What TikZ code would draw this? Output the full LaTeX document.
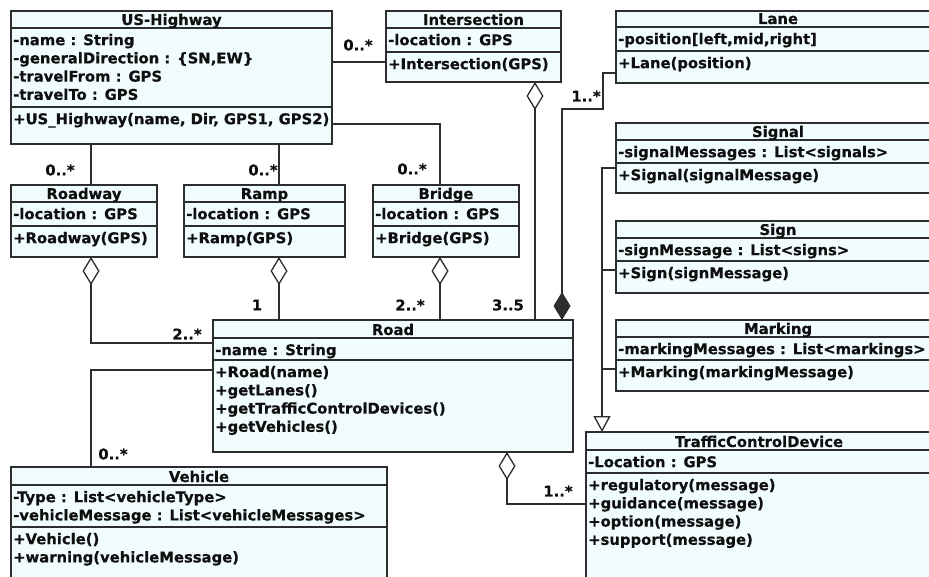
\documentclass[tikz,border=0pt]{standalone}
\usepackage{fontspec}
\setmainfont{DejaVu Sans}[BoldFeatures={FakeBold=0.5}]
\usetikzlibrary{arrows.meta}
\definecolor{boxfill}{RGB}{240,252,253}
\definecolor{linec}{RGB}{45,45,45}
\definecolor{txtc}{RGB}{15,15,15}
\newcommand\fs{\rule{0pt}{12pt}}
% #1 name, #2 left, #3 top, #4 right, #5 bottom, #6 title separator, #7 attribute separator, #8 title
\newcommand\umlbox[8]{%
  \node[clsbox, minimum width={#4-#2}, minimum height={#5-#3}] (#1) at (#2,#3) {};
  \draw[sepline] (#2,#6) -- (#4,#6);
  \draw[sepline] (#2,#7) -- (#4,#7);
  \node[ttl] (#1-t) at ({(#2+#4)/2},{#6-3}) {#8};
}
\begin{document}
\begin{tikzpicture}[x=1pt,y=-1pt,
  clsbox/.style={draw=linec, fill=boxfill, line width=1.5pt, anchor=north west, inner sep=0pt, outer sep=0pt},
  sepline/.style={draw=linec, line width=1.2pt},
  umltxt/.style={font=\fontsize{14.8}{18.2}\selectfont\bfseries, text=txtc, inner sep=0pt},
  cmp/.style={umltxt, anchor=north west, align=left},
  ttl/.style={umltxt, anchor=base},
  mult/.style={umltxt, anchor=center},
  conn/.style={draw=linec, line width=1.3pt},
  aggr/.style={conn, {Diamond[open, fill=white, length=28pt, width=17pt]}-},
  comp/.style={conn, {Diamond[length=28pt, width=17pt]}-},
  gen/.style={conn, -{Triangle[open, fill=white, length=16pt, width=17pt]}}
]
\useasboundingbox (0,0) rectangle (929,577);
\fill[white] (0,0) rectangle (929,577);
\clip (0,0) rectangle (929,577);

% ---- classes ----
\umlbox{usH}{11}{11}{332}{144}{28}{107}{US-Highway}
\node[cmp] (usH-a) at (13,33) {\fs-name : String\\-generalDirection : \{SN,EW\}\\-travelFrom : GPS\\-travelTo : GPS};
\node[cmp] (usH-m) at (13,112) {\fs+US\_Highway(name, Dir, GPS1, GPS2)};

\umlbox{inter}{386}{11}{561}{82}{28}{52}{Intersection}
\node[cmp] (inter-a) at (388,33) {\fs-location : GPS};
\node[cmp] (inter-m) at (388,57) {\fs+Intersection(GPS)};

\umlbox{lane}{616}{11}{940}{83}{27}{51}{Lane}
\node[cmp] (lane-a) at (618,32) {\fs-position[left,mid,right]};
\node[cmp] (lane-m) at (618,56) {\fs+Lane(position)};

\umlbox{signal}{616}{123}{940}{193}{140}{163}{Signal}
\node[cmp] (signal-a) at (618,145) {\fs-signalMessages : List<signals>};
\node[cmp] (signal-m) at (618,168) {\fs+Signal(signalMessage)};

\umlbox{sign}{616}{221}{940}{293}{238}{261}{Sign}
\node[cmp] (sign-a) at (618,243) {\fs-signMessage : List<signs>};
\node[cmp] (sign-m) at (618,266) {\fs+Sign(signMessage)};

\umlbox{marking}{616}{320}{940}{391}{337}{360}{Marking}
\node[cmp] (marking-a) at (618,342) {\fs-markingMessages : List<markings>};
\node[cmp] (marking-m) at (618,365) {\fs+Marking(markingMessage)};

\umlbox{roadway}{11}{185}{157}{257}{202}{226}{Roadway}
\node[cmp] (roadway-a) at (13,207) {\fs-location : GPS};
\node[cmp] (roadway-m) at (13,231) {\fs+Roadway(GPS)};

\umlbox{ramp}{184}{185}{345}{257}{202}{226}{Ramp}
\node[cmp] (ramp-a) at (186,207) {\fs-location : GPS};
\node[cmp] (ramp-m) at (186,231) {\fs+Ramp(GPS)};

\umlbox{bridge}{373}{185}{519}{257}{202}{226}{Bridge}
\node[cmp] (bridge-a) at (375,207) {\fs-location : GPS};
\node[cmp] (bridge-m) at (375,231) {\fs+Bridge(GPS)};

\umlbox{road}{213}{320}{573}{452}{338}{360}{Road}
\node[cmp] (road-a) at (215,343) {\fs-name : String};
\node[cmp] (road-m) at (215,365) {\fs+Road(name)\\+getLanes()\\+getTrafficControlDevices()\\+getVehicles()};

\umlbox{vehicle}{11}{467}{387}{600}{485}{527}{Vehicle}
\node[cmp] (vehicle-a) at (13,490) {\fs-Type : List<vehicleType>\\-vehicleMessage : List<vehicleMessages>};
\node[cmp] (vehicle-m) at (13,532) {\fs+Vehicle()\\+warning(vehicleMessage)};

\umlbox{tcd}{586}{432}{932}{600}{450}{473}{TrafficControlDevice}
\node[cmp] (tcd-a) at (588,455) {\fs-Location : GPS};
\node[cmp] (tcd-m) at (588,478) {\fs+regulatory(message)\\+guidance(message)\\+option(message)\\+support(message)};

% ---- connectors ----
\draw[conn] ([yshift=-51pt]usH.north east) -- ([yshift=-51pt]inter.north west);
\draw[conn] ([yshift=-113pt]usH.north east) -| ([xshift=67pt]bridge.north west);
\draw[conn] ([xshift=80pt]usH.south west) -- ([xshift=80pt]roadway.north west);
\draw[conn] ([xshift=268pt]usH.south west) -- ([xshift=95pt]ramp.north west);

\draw[aggr] ([xshift=80pt]roadway.south west) |- ([yshift=-23pt]road.north west);
\draw[aggr] ([xshift=95pt]ramp.south west) -- ([xshift=66pt]road.north west);
\draw[aggr] ([xshift=67pt]bridge.south west) -- ([xshift=227pt]road.north west);
\draw[aggr] ([xshift=149pt]inter.south west) -- ([xshift=322pt]road.north west);

\coordinate (lnk) at (603,109);
\draw[comp] ([xshift=349pt]road.north west) |- (lnk) |- ([yshift=-62pt]lane.north west);

\draw[conn] ([yshift=-50pt]road.north west) -| ([xshift=80pt]vehicle.north west);
\draw[aggr] ([xshift=294pt]road.south west) |- ([yshift=-72pt]tcd.north west);

\draw[gen] ([yshift=-45pt]signal.north west) -| ([xshift=16pt]tcd.north west);
\draw[conn] ([yshift=-49pt]sign.north west) -- ++(-14pt,0);
\draw[conn] ([yshift=-49pt]marking.north west) -- ++(-14pt,0);

% ---- multiplicities ----
\node[mult] (m1) at (358,45) {0..*};
\node[mult] (m2) at (60,170) {0..*};
\node[mult] (m3) at (263,170) {0..*};
\node[mult] (m4) at (412,169) {0..*};
\node[mult] (m5) at (586,96) {1..*};
\node[mult] (m6) at (257,305) {1};
\node[mult] (m7) at (187,334) {2..*};
\node[mult] (m8) at (410,305) {2..*};
\node[mult] (m9) at (508,305) {3..5};
\node[mult] (m10) at (113,454) {0..*};
\node[mult] (m11) at (558,491) {1..*};
\end{tikzpicture}
\end{document}
